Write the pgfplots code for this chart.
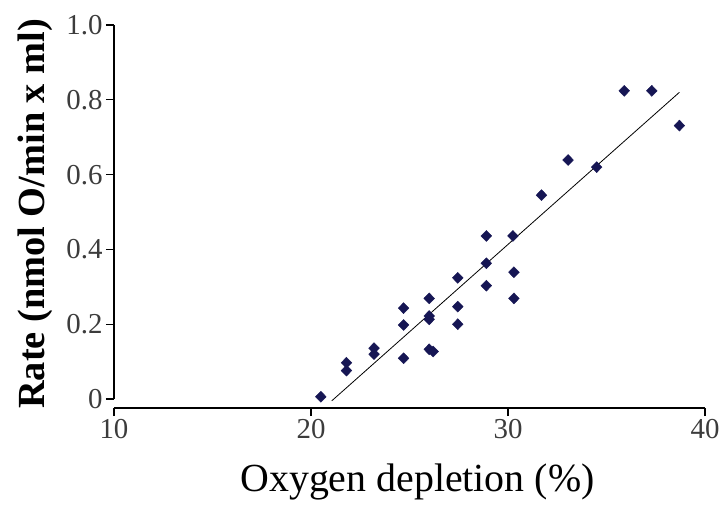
\documentclass[border=0pt]{standalone}
\usepackage{fontspec}
\setmainfont{Liberation Serif}
\usepackage{pgfplots}
\pgfplotsset{compat=1.18}
\definecolor{dotnavy}{RGB}{22,22,84}
\definecolor{ticklab}{RGB}{60,60,60}
\begin{document}
\begin{tikzpicture}[x=1bp,y=1bp]
\begin{axis}[
  scale only axis, width=591bp, height=383bp,
  xmin=10, xmax=40, ymin=-0.024, ymax=1.0,
  axis x line=bottom, axis y line=left,
  axis line style={draw=none,-},
  tick align=outside, major tick length=8bp,
  tick style={black, line width=1.1bp},
  xtick={10,20,30,40}, ytick={0,0.2,0.4,0.6,0.8,1.0},
  xticklabels={10,20,30,40},
  yticklabels={0,0.2,0.4,0.6,0.8,1.0},
  ticklabel style={font=\fontsize{29}{31}\selectfont, text=ticklab},
  clip=false,
  xlabel={Oxygen depletion (\%)},
  ylabel={Rate (nmol O/min x ml)},
  xlabel style={font=\fontsize{40}{44}\selectfont,
    at={(axis description cs:0.5135,-0.219)}, anchor=base},
  ylabel style={font=\bfseries\fontsize{38.5}{42}\selectfont,
    at={(axis description cs:-0.134,0.507)}, anchor=center},
]
% axis lines: y axis stops at 0, x axis sits a little below it
\draw[line width=1.1bp] (axis cs:10,0) -- (axis cs:10,1.0);
\draw[line width=1.1bp] (axis cs:10,-0.024) -- (axis cs:40,-0.024);

% regression line
\addplot[black, line width=0.8bp] coordinates {(21.05,-0.005) (38.7,0.82)};

% measurements
\addplot[only marks, mark=diamond*, mark size=5.5bp,
  mark options={xscale=1.3, fill=dotnavy, draw=dotnavy}] coordinates {
  (20.5,0.006) (21.8,0.097) (21.8,0.076) (23.2,0.136) (23.2,0.120)
  (24.7,0.243) (24.7,0.198) (24.7,0.109)
  (26.0,0.269) (26.0,0.222) (26.0,0.213) (26.0,0.133) (26.2,0.127)
  (27.45,0.324) (27.45,0.247) (27.45,0.200)
  (28.9,0.436) (28.9,0.363) (28.9,0.303)
  (30.25,0.436) (30.3,0.339) (30.3,0.269)
  (31.7,0.545) (33.05,0.639) (34.5,0.620)
  (35.9,0.824) (37.3,0.824) (38.7,0.731)
};
\end{axis}
\pgfresetboundingbox
\path[use as bounding box] (-114bp,-97bp) rectangle (607bp,408bp);
\end{tikzpicture}
\end{document}
